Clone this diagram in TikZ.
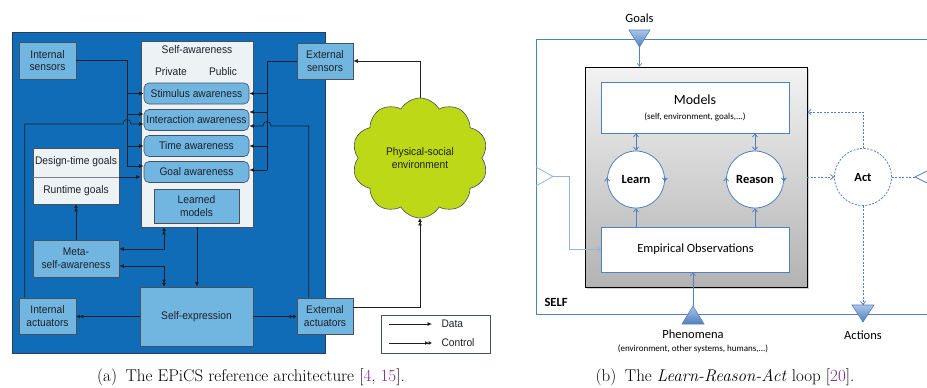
\documentclass[tikz,border=0pt]{standalone}
\usepackage{fontspec}
\usetikzlibrary{arrows.meta,calc,shapes.symbols,shadows}
\newfontfamily\archfont[FakeStretch=0.93]{Liberation Sans}
\newfontfamily\loopfont{Carlito}

\definecolor{archbg}{RGB}{16,108,182}
\definecolor{archedge}{RGB}{40,60,90}
\definecolor{boxblue}{RGB}{112,182,224}
\definecolor{paleface}{RGB}{237,242,244}
\definecolor{inkdark}{RGB}{30,32,40}
\definecolor{boxedge}{RGB}{70,80,95}
\definecolor{cloudgreen}{RGB}{188,216,22}
\definecolor{selfblue}{RGB}{79,129,189}
\definecolor{paleline}{RGB}{150,180,216}
\definecolor{tritop}{RGB}{170,196,232}
\definecolor{citepurple}{RGB}{128,40,140}

\tikzset{
  archtext/.style={font=\archfont\fontsize{11}{12.5}\selectfont, text=inkdark},
  abox/.style={archtext, draw=boxedge, line width=0.6pt, fill=boxblue, inner sep=0pt, align=center},
  pbox/.style={abox, fill=paleface},
  awbox/.style={abox, rounded corners=5pt, minimum width=105, minimum height=21},
  conn/.style={draw=inkdark, line width=0.7pt},
  dtip/.style={-{Latex[length=4.5pt,width=4pt]}},
  ctip/.style={-{Latex[length=3.5pt,width=4pt] Latex[length=3.5pt,width=4pt]}},
  mixtip/.style={{Latex[length=4.5pt,width=4pt]}-{Latex[length=3.5pt,width=4pt] Latex[length=3.5pt,width=4pt]}},
  looptext/.style={font=\loopfont\fontsize{12.5}{14}\selectfont, text=black},
  selfline/.style={draw=selfblue, line width=0.8pt},
  paleconn/.style={draw=paleline, line width=0.8pt},
  btip/.style={-{Straight Barb[length=3pt,width=5pt]}},
  bbtip/.style={{Straight Barb[length=3pt,width=5pt]}-{Straight Barb[length=3pt,width=5pt]}},
  dotted line/.style={dash pattern=on 2pt off 1.5pt},
  loopcircle/.style={circle, selfline, fill=white, minimum size=57, inner sep=0pt,
    font=\loopfont\bfseries\fontsize{12.5}{14}\selectfont},
  loopbox/.style={selfline, fill=white, inner sep=0pt, align=center, looptext},
}

\begin{document}
\begin{tikzpicture}[x=1pt,y=-1pt]
\useasboundingbox (0,0) rectangle (927,388);
\fill[white] (0,0) rectangle (927,388);

% ---------------- EPiCS architecture ----------------
\node[draw=archedge, fill=archbg, line width=0.6pt, minimum width=313, minimum height=321, inner sep=0pt] (arch) at (168.5,192.5) {};

% self-awareness container
\node[pbox, minimum width=112, minimum height=186] (sa) at (197,134) {};
\node[archtext] (satitle) at (197,50) {Self-awareness};
\node[archtext] (priv) at (171,72) {Private};
\node[archtext] (publ) at (223,72) {Public};
\node[awbox] (stim) at (196.5,93.5) {Stimulus awareness};
\node[awbox] (iaw) at (196.5,120) {Interaction awareness};
\node[awbox] (taw) at (196.5,146) {Time awareness};
\node[awbox] (gaw) at (196.5,172) {Goal awareness};
\node[abox, minimum width=85, minimum height=34] (lm) at (196.5,206) {Learned\\models};

% surrounding components
\node[abox, minimum width=57, minimum height=37] (isens) at (47.5,60.5) {Internal\\sensors};
\node[abox, minimum width=56, minimum height=36] (esens) at (325,61) {External\\sensors};
\node[pbox, minimum width=86, minimum height=56] (goals) at (76,176) {};
\draw[draw=boxedge!70, line width=0.8pt] (goals.west |- 0,177) -- (goals.east |- 0,177);
\node[archtext] (dtg) at (76,162) {Design-time goals};
\node[archtext] (rtg) at (76,190.5) {Runtime goals};
\node[abox, minimum width=86, minimum height=37] (meta) at (76,258.5) {Meta-\\self-awareness};
\node[abox, minimum width=57, minimum height=36] (iact) at (47.5,316) {Internal\\actuators};
\node[abox, minimum width=113, minimum height=59] (sexp) at (196.5,316.5) {Self-expression};
\node[abox, minimum width=56, minimum height=36] (eact) at (325,316) {External\\actuators};
\node[cloud, cloud puffs=10, cloud puff arc=120, cloud ignores aspect, draw=boxedge, line width=0.6pt,
  fill=cloudgreen, minimum width=136, minimum height=120, archtext, align=center] (env) at (420,158)
  {Physical-social\\environment};

% sensor buses
\coordinate (lb) at (127,0);
\coordinate (rb) at (267,0);
\coordinate (iL1) at ($(iaw.west)+(0,-6)$);
\coordinate (iL2) at ($(iaw.west)+(0,4)$);
\coordinate (gL) at ($(gaw.west)+(0,-6)$);
\coordinate (iR1) at ($(iaw.east)+(0,-8)$);
\coordinate (iR2) at ($(iaw.east)+(0,6)$);
\coordinate (gR) at ($(gaw.east)+(0,-2)$);

\draw[conn] (isens.east) -| (lb |- gL);
\foreach \t in {stim.west, iL1, taw.west, gL}
  \draw[conn,dtip] (lb |- \t) -- (\t);
\draw[conn] (esens.west) -| (rb |- gR);
\foreach \t in {stim.east, iR1, taw.east, gR}
  \draw[conn,dtip] (rb |- \t) -- (\t);

% actuator feedback lines with hops over the buses
\coordinate (ia) at ($(iact.north west)+(6,0)$);
\draw[conn,dtip] (ia) |- ($(lb |- iL2)+(-4,0)$) .. controls +(0,-6) and +(0,-6) .. ($(lb |- iL2)+(4,0)$) -- (iL2);
\coordinate (ea) at ($(eact.north west)+(12,0)$);
\draw[conn,dtip] (ea) |- ($(rb |- iR2)+(4,0)$) .. controls +(0,-6) and +(0,-6) .. ($(rb |- iR2)+(-4,0)$) -- (iR2);

% goals into self-awareness
\coordinate (gdiv) at (goals.east |- 0,177);
\draw[conn,dtip] (gdiv) -- (sa.west |- gdiv);

% self-awareness to self-expression
\draw[conn,dtip] (sa.south) -- (sa.south |- sexp.north);

% meta-self-awareness links
\coordinate (mc) at (164,0);
\draw[conn,mixtip] ($(meta.east)+(0,-9.5)$) -| (mc |- sa.south);
\draw[conn,mixtip] ($(meta.east)+(0,7.5)$) -| (mc |- sexp.north);
\draw[conn,ctip] (meta.north) -- (goals.south);

% actuation
\draw[conn,ctip] (sexp.west) -- (sexp.west -| iact.east);
\draw[conn,ctip] (sexp.east) -- (sexp.east -| eact.west);
\draw[conn,ctip] ($(eact.east)+(0,-9)$) -| (env.south);
\draw[conn,dtip] (env.north) |- (esens.east);

% legend
\node[draw=boxedge, fill=white, line width=0.6pt, minimum width=109, minimum height=38, inner sep=0pt] (legend) at (435.5,334) {};
\coordinate (lda) at (389,324);
\coordinate (ldb) at (432,324);
\coordinate (lca) at (389,343);
\coordinate (lcb) at (432,343);
\draw[conn,dtip] (lda) -- (ldb);
\draw[conn,ctip] (lca) -- (lcb);
\node[archtext, anchor=west] (ldata) at (438,324) {Data};
\node[archtext, anchor=west] (lctrl) at (438,343) {Control};

% ---------------- Learn-Reason-Act loop ----------------
\node[selfline, minimum width=409, minimum height=275, inner sep=0pt] (self) at (740.5,176.5) {};
\node[looptext, font=\loopfont\bfseries\fontsize{12.5}{14}\selectfont, anchor=west] (selflbl) at (541,302) {SELF};

\node[draw=black, line width=0.8pt, top color=black!5, bottom color=black!30, minimum width=222, minimum height=220,
  inner sep=0pt, drop shadow={opacity=0.35, shadow xshift=1.5pt, shadow yshift=-1.5pt}] (lra) at (696,177) {};

\node[loopbox, minimum width=188, minimum height=51] (models) at (695,107.5)
  {{\fontsize{14}{15}\selectfont Models}\\[1pt]{\fontsize{9}{10}\selectfont (self, environment, goals,...)}};
\node[loopbox, minimum width=188, minimum height=45] (emp) at (695.5,249.5) {Empirical Observations};

\node[loopcircle] (learn) at (636,179.5) {Learn};
\node[loopcircle] (reason) at (755,179.5) {Reason};
\node[loopcircle, dotted line] (act) at (863,177) {Act};

% circulation marks on the circles
\foreach \c in {learn, reason} {
  \draw[selfline,btip] ($(\c.west)+(0,2)$) -- ($(\c.west)+(0,-2)$);
  \draw[selfline,btip] ($(\c.east)+(0,-2)$) -- ($(\c.east)+(0,2)$);
}

\draw[selfline,bbtip] (learn.north) -- (learn.north |- models.south);
\draw[selfline,bbtip] (reason.north) -- (reason.north |- models.south);
\draw[selfline,btip] (learn.south |- emp.north) -- (learn.south);
\draw[selfline,btip] (reason.south |- emp.north) -- (reason.south);

% goals input
\coordinate (gtip) at (639.5,47);
\shade[top color=tritop, bottom color=selfblue] (629,30) -- (650,30) -- (gtip) -- cycle;
\draw[selfline, line width=0.6pt] (629,30) -- (650,30) -- (gtip) -- cycle;
\node[looptext] (goalslbl) at (639.5,18) {Goals};
\draw[selfline, line width=0.6pt, btip] (gtip) -- (gtip |- lra.north);

% side input into empirical observations
\coordinate (sidetip) at (553,176.5);
\draw[paleconn] (536,167) -- (sidetip) -- (536,186);
\draw[paleconn,btip] (sidetip) -- (569,176.5) |- (emp.west);

% phenomena input
\coordinate (ptip) at (693,306);
\shade[top color=tritop, bottom color=selfblue] (682,324) -- (704,324) -- (ptip) -- cycle;
\draw[selfline, line width=0.6pt] (682,324) -- (704,324) -- (ptip) -- cycle;
\draw[selfline, line width=0.6pt, btip] (ptip) -- (ptip |- emp.south);
\node[looptext] (phen) at (693,334) {Phenomena};
\node[looptext, font=\loopfont\fontsize{9}{10}\selectfont] (phensub) at (693,349) {(environment, other systems, humans,...)};

% acting
\coordinate (atop) at (863,305);
\shade[top color=tritop, bottom color=selfblue] (852,305) -- (874,305) -- (863,322) -- cycle;
\draw[selfline, line width=0.6pt] (852,305) -- (874,305) -- (863,322) -- cycle;
\node[looptext] (actions) at (863,335) {Actions};
\draw[selfline, dotted line, btip] (act.south) -- (atop);
\draw[selfline, dotted line, btip] (lra.east |- act.west) -- (act.west);
\draw[selfline, dotted line, btip] (act.north) |- ($(lra.east |- models.east)+(0,4.5)$);
\coordinate (rtip) at (915,177);
\draw[selfline, dotted line] (act.east) -- (rtip);
\draw[selfline] (929,170) -- (rtip) -- (929,184);

% ---------------- captions ----------------
\node[font=\fontsize{17}{19}\selectfont] (capa) at (251,377)
  {(a)\enspace The EPiCS reference architecture [\textcolor{citepurple}{4}, \textcolor{citepurple}{15}].};
\node[font=\fontsize{17}{19}\selectfont] (capb) at (725,377)
  {(b)\enspace The \textit{Learn-Reason-Act} loop [\textcolor{citepurple}{20}].};
\end{tikzpicture}
\end{document}
